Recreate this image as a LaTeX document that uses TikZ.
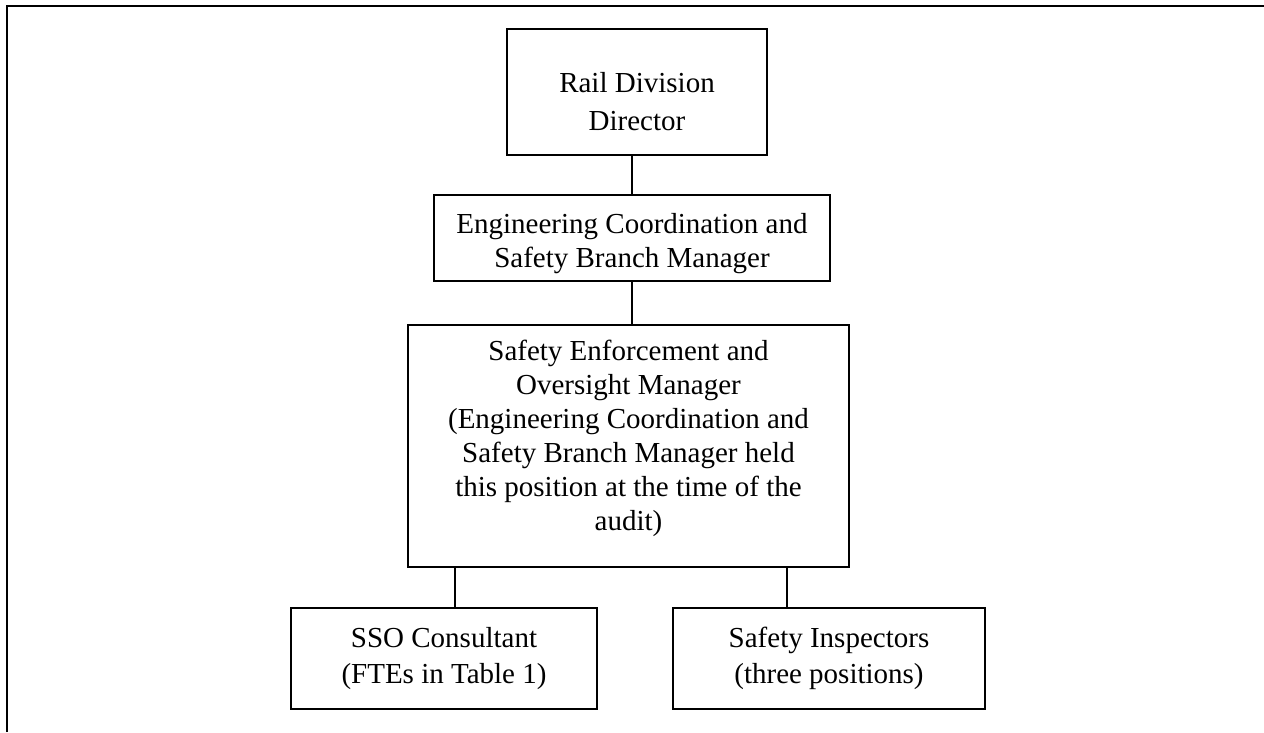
\documentclass[tikz,border=0pt]{standalone}
\usepackage{fontspec}
\setmainfont{Liberation Serif}
\begin{document}
\begin{tikzpicture}[x=1pt,y=-1pt,
    post/.style={draw=black, line width=1.8pt, align=center, inner sep=0pt,
      font=\fontsize{29}{34}\selectfont},
    link/.style={line width=1.6pt}]
    \useasboundingbox (0,0) rectangle (1264,732);
    % frame
    \draw [line width=2pt] (7,732) -- (7,6) -- (1264,6);
    % boxes
    \node [post, minimum width=260pt, minimum height=126pt,
      font=\fontsize{29}{38}\selectfont] (dir) at (637,92)
      {\rule{0pt}{40pt}Rail Division\\Director};
    \node [post, minimum width=396pt, minimum height=86pt] (ecsb) at (632,238)
      {\rule{0pt}{32pt}Engineering Coordination and\\Safety Branch Manager};
    \node [post, minimum width=441pt, minimum height=242pt] (seom) at (628.5,446)
      {Safety Enforcement and\\Oversight Manager\\(Engineering Coordination and\\Safety Branch Manager held\\this position at the time of the\\audit)\rule[-22pt]{0pt}{22pt}};
    \node [post, minimum width=306pt, minimum height=101pt,
      font=\fontsize{29}{36}\selectfont] (sso) at (444,658.5)
      {SSO Consultant\\(FTEs in Table 1)};
    \node [post, minimum width=312pt, minimum height=101pt,
      font=\fontsize{29}{36}\selectfont] (insp) at (829,658.5)
      {Safety Inspectors\\(three positions)};
    % connectors
    \draw [link] (ecsb.north) -- (ecsb.north |- dir.south);
    \draw [link] (ecsb.south) -- (ecsb.south |- seom.north);
    \draw [link] ([xshift=11pt]sso.north) -- ([xshift=11pt]sso.north |- seom.south);
    \draw [link] ([xshift=-42pt]insp.north) -- ([xshift=-42pt]insp.north |- seom.south);
\end{tikzpicture}
\end{document}
